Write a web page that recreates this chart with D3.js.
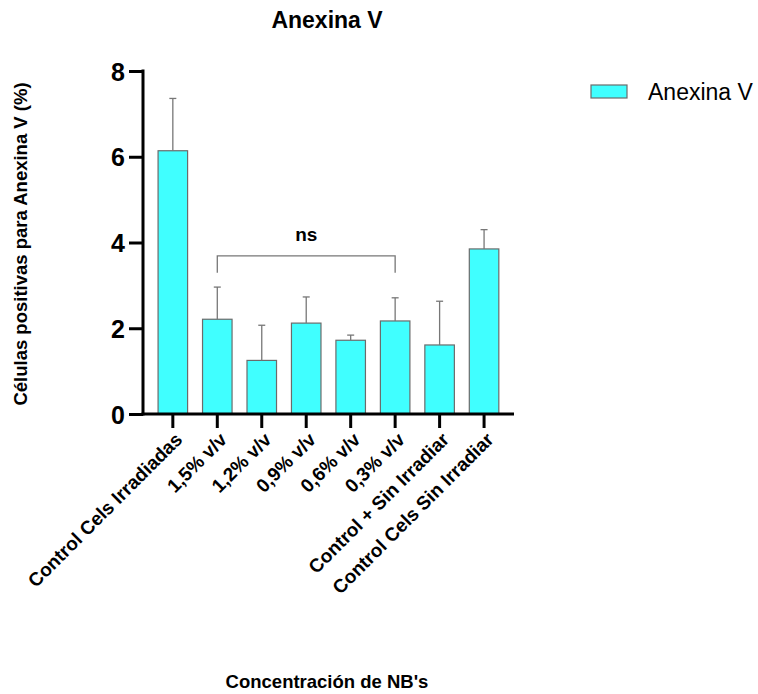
<!DOCTYPE html>
<html>
<head>
<meta charset="utf-8">
<script src="https://d3js.org/d3.v7.min.js"></script>
<style>
  body { margin: 0; background: #fff; }
  text { font-family: Arial, "Liberation Sans", sans-serif; }
</style>
</head>
<body>
<div id="chart"></div>
<script>
// data
var categories = ["Control Cels Irradiadas", "1,5% v/v", "1,2% v/v", "0,9% v/v",
                  "0,6% v/v", "0,3% v/v", "Control + Sin Irradiar", "Control Cels Sin Irradiar"];
var means = [6.14, 2.21, 1.25, 2.12, 1.72, 2.17, 1.61, 3.85];
var errors = [1.22, 0.75, 0.82, 0.61, 0.12, 0.54, 1.02, 0.45];
var yTicks = [0, 2, 4, 6, 8];
var bracketFrom = "1,5% v/v", bracketTo = "0,3% v/v", bracketLabel = "ns", bracketY = 3.69;

var width = 758, height = 694;
var svg = d3.select("#chart").append("svg")
  .attr("width", width).attr("height", height);

var x = d3.scaleBand()
  .domain(categories)
  .range([150.6, 506.3])
  .paddingInner(0.336)
  .paddingOuter(0.168);

var y = d3.scaleLinear().domain([0, 8]).range([414, 71]);

// bars
svg.selectAll("rect.bar")
  .data(categories)
  .enter().append("rect")
  .attr("class", "bar")
  .attr("x", function(d) { return x(d); })
  .attr("y", function(d, i) { return y(means[i]); })
  .attr("width", x.bandwidth())
  .attr("height", function(d, i) { return y(0) - y(means[i]); })
  .attr("fill", "#40ffff")
  .attr("stroke", "#6b6b6b")
  .attr("stroke-width", 1.2);

// error bars (upper only)
var eb = svg.selectAll("g.err").data(categories).enter().append("g").attr("class", "err")
  .attr("stroke", "#777").attr("stroke-width", 1.3);
eb.append("line")
  .attr("x1", function(d) { return x(d) + x.bandwidth() / 2; })
  .attr("x2", function(d) { return x(d) + x.bandwidth() / 2; })
  .attr("y1", function(d, i) { return y(means[i]); })
  .attr("y2", function(d, i) { return y(means[i] + errors[i]); });
eb.append("line")
  .attr("x1", function(d) { return x(d) + x.bandwidth() / 2 - 3.5; })
  .attr("x2", function(d) { return x(d) + x.bandwidth() / 2 + 3.5; })
  .attr("y1", function(d, i) { return y(means[i] + errors[i]); })
  .attr("y2", function(d, i) { return y(means[i] + errors[i]); });

// y axis
var yAxis = svg.append("g")
  .attr("transform", "translate(143,0)")
  .call(d3.axisLeft(y).tickValues(yTicks).tickSize(14).tickPadding(4));
yAxis.select(".domain").attr("stroke", "#000").attr("stroke-width", 3).attr("d", "M0," + (y(8) - 1.5) + "V" + (y(0) + 1.5));
yAxis.selectAll(".tick line").attr("stroke", "#000").attr("stroke-width", 3);
yAxis.selectAll(".tick text").attr("font-size", 25).attr("font-weight", "bold").attr("fill", "#000")
  .attr("dy", "0.36em");

// x axis
var xAxis = svg.append("g")
  .attr("transform", "translate(0,414)")
  .call(d3.axisBottom(x).tickSize(14).tickPadding(3));
xAxis.select(".domain").attr("stroke", "#000").attr("stroke-width", 3).attr("d", "M141.5,0H514");
xAxis.selectAll(".tick line").attr("stroke", "#000").attr("stroke-width", 3);
xAxis.selectAll(".tick text")
  .attr("font-size", 19).attr("font-weight", "bold").attr("fill", "#000")
  .attr("text-anchor", "end")
  .attr("transform", "translate(6,22) rotate(-45)")
  .attr("x", 0).attr("y", 0).attr("dy", "0.35em");

// significance bracket
var bx1 = x(bracketFrom) + x.bandwidth() / 2, bx2 = x(bracketTo) + x.bandwidth() / 2;
svg.append("path")
  .attr("d", "M" + bx1 + "," + (y(bracketY) + 17) + "V" + y(bracketY) + "H" + bx2 + "V" + (y(bracketY) + 17))
  .attr("fill", "none").attr("stroke", "#777").attr("stroke-width", 1.3);
svg.append("text")
  .attr("x", (bx1 + bx2) / 2).attr("y", y(bracketY) - 15)
  .attr("text-anchor", "middle").attr("font-size", 19).attr("font-weight", "bold")
  .text(bracketLabel);

// titles
svg.append("text").attr("x", 327).attr("y", 28).attr("text-anchor", "middle")
  .attr("font-size", 23).attr("font-weight", "bold").text("Anexina V");
svg.append("text").attr("transform", "translate(27,244) rotate(-90)").attr("text-anchor", "middle")
  .attr("font-size", 18.5).attr("font-weight", "bold").text("Células positivas para Anexina V (%)");
svg.append("text").attr("x", 327).attr("y", 688).attr("text-anchor", "middle")
  .attr("font-size", 18.5).attr("font-weight", "bold").text("Concentración de NB's");

// legend
svg.append("rect").attr("x", 591).attr("y", 85).attr("width", 36).attr("height", 13)
  .attr("fill", "#40ffff").attr("stroke", "#6b6b6b").attr("stroke-width", 1.2);
svg.append("text").attr("x", 648).attr("y", 100).attr("font-size", 23).text("Anexina V");
</script>
</body>
</html>
